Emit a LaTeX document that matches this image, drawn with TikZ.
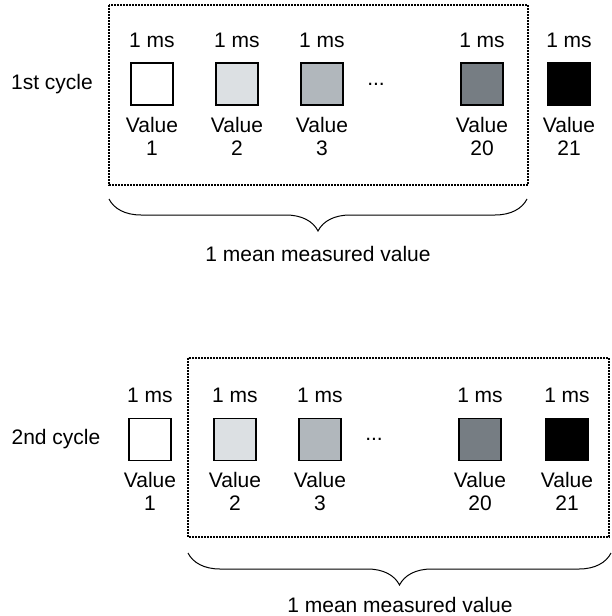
\documentclass[tikz,border=0pt]{standalone}
\usepackage{fontspec}
\setmainfont{Liberation Sans}
\usetikzlibrary{decorations.pathreplacing}
\definecolor{shadeA}{HTML}{DCE0E3}
\definecolor{shadeB}{HTML}{B1B7BC}
\definecolor{shadeC}{HTML}{767D83}

\begin{document}
\begin{tikzpicture}[x=1pt, y=-1pt, node distance=85pt,
  every node/.style={font=\fontsize{21}{23}\selectfont},
  sample/.style={draw, line width=1.8pt, minimum size=42pt, inner sep=0pt},
  frame/.style={line width=1.3pt, dash pattern=on 2pt off 1pt},
  curly/.style={decorate, decoration={brace, mirror, amplitude=32pt}, line width=1pt}]
\useasboundingbox (0,0) rectangle (612,616);

% 1st cycle
\node (cyc1) at (52,84) {1st cycle};
\node (v1) [sample] at (152,84) {};
\node (v2) [sample, fill=shadeA, right of=v1] {};
\node (v3) [sample, fill=shadeB, right of=v2] {};
\node (dots1) [right of=v3, xshift=-31pt] {...};
\node (v20) [sample, fill=shadeC, right of=v3, xshift=75pt] {};
\node (v21) [sample, fill=black, right of=v20, xshift=2pt] {};
\node (t1) [above of=v1, node distance=44pt] {1 ms};
\node (t2) [above of=v2, node distance=44pt] {1 ms};
\node (t3) [above of=v3, node distance=44pt] {1 ms};
\node (t20) [above of=v20, node distance=44pt] {1 ms};
\node (t21) [above of=v21, node distance=44pt] {1 ms};
\node (n1) [below of=v1, node distance=52pt, align=center] {Value\\1};
\node (n2) [below of=v2, node distance=52pt, align=center] {Value\\2};
\node (n3) [below of=v3, node distance=52pt, align=center] {Value\\3};
\node (n20) [below of=v20, node distance=52pt, align=center] {Value\\20};
\node (n21) [below of=v21, node distance=52pt, align=center] {Value\\21};
\draw[frame] (109,5) rectangle (528,185);
\coordinate (b1l) at (109,199);
\coordinate (b1r) at (527,199);
\draw[curly] (b1l) -- (b1r);
\node (mean1) at (318,254) {1 mean measured value};

% 2nd cycle
\node (cyc2) at (56,439.5) {2nd cycle};
\node (w1) [sample] at (150,439.5) {};
\node (w2) [sample, fill=shadeA, right of=w1] {};
\node (w3) [sample, fill=shadeB, right of=w2] {};
\node (dots2) [right of=w3, xshift=-31pt] {...};
\node (w20) [sample, fill=shadeC, right of=w3, xshift=75pt] {};
\node (w21) [sample, fill=black, right of=w20, xshift=2pt] {};
\node (s1) [above of=w1, node distance=44pt] {1 ms};
\node (s2) [above of=w2, node distance=44pt] {1 ms};
\node (s3) [above of=w3, node distance=44pt] {1 ms};
\node (s20) [above of=w20, node distance=44pt] {1 ms};
\node (s21) [above of=w21, node distance=44pt] {1 ms};
\node (m1) [below of=w1, node distance=52pt, align=center] {Value\\1};
\node (m2) [below of=w2, node distance=52pt, align=center] {Value\\2};
\node (m3) [below of=w3, node distance=52pt, align=center] {Value\\3};
\node (m20) [below of=w20, node distance=52pt, align=center] {Value\\20};
\node (m21) [below of=w21, node distance=52pt, align=center] {Value\\21};
\draw[frame] (188,358) rectangle (609,537);
\coordinate (b2l) at (188,553);
\coordinate (b2r) at (611,553);
\draw[curly] (b2l) -- (b2r);
\node (mean2) at (400,605) {1 mean measured value};
\end{tikzpicture}
\end{document}
